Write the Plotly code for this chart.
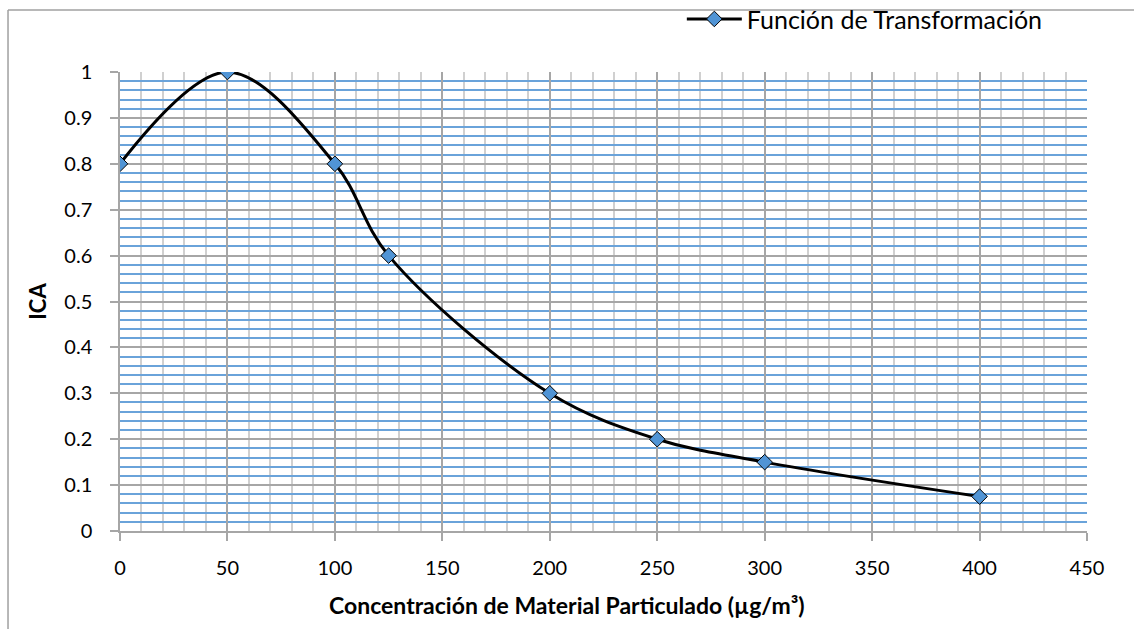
import plotly.graph_objects as go

# Transformation function data: particulate concentration vs ICA
concentracion = [0, 50, 100, 125, 200, 250, 300, 400]
ica = [0.8, 1.0, 0.8, 0.6, 0.3, 0.2, 0.15, 0.075]

x_ticks = [0, 50, 100, 150, 200, 250, 300, 350, 400, 450]
y_ticks = [0, 0.1, 0.2, 0.3, 0.4, 0.5, 0.6, 0.7, 0.8, 0.9, 1.0]
y_tick_text = ["0", "0.1", "0.2", "0.3", "0.4", "0.5", "0.6", "0.7", "0.8", "0.9", "1"]

FONT = "Lato"
MAJOR_GRID = "#a6a6a6"
MINOR_V = "#d0d0d0"
MINOR_H = "#6aa3da"

fig = go.Figure()
fig.add_trace(go.Scatter(
    x=concentracion,
    y=ica,
    mode="lines+markers",
    name="Función de Transformación",
    line=dict(color="black", width=3, shape="spline", smoothing=1),
    marker=dict(symbol="diamond", size=12, color="#5094d5",
                line=dict(color="black", width=1)),
))

fig.update_xaxes(
    range=[0, 450],
    tickvals=x_ticks,
    showline=True, linecolor=MAJOR_GRID, linewidth=1.5,
    ticks="outside", ticklen=8, tickcolor=MAJOR_GRID, tickwidth=1.5,
    ticklabelstandoff=10,
    showgrid=True, gridcolor=MAJOR_GRID, gridwidth=1.5,
    minor=dict(dtick=10, showgrid=True, gridcolor=MINOR_V, gridwidth=1.5),
    zeroline=False,
    tickfont=dict(family=FONT, size=20, color="black"),
)
fig.update_yaxes(
    range=[0, 1],
    tickvals=y_ticks,
    ticktext=y_tick_text,
    showline=True, linecolor=MAJOR_GRID, linewidth=1.5,
    ticks="outside", ticklen=8, tickcolor=MAJOR_GRID, tickwidth=1.5,
    ticklabelstandoff=14,
    showgrid=True, gridcolor=MAJOR_GRID, gridwidth=1.5,
    minor=dict(dtick=0.02, showgrid=True, gridcolor=MINOR_H, gridwidth=1.5),
    zeroline=False,
    tickfont=dict(family=FONT, size=20, color="black"),
    title=dict(text="<b>ICA</b>", font=dict(family=FONT, size=22, color="black"),
               standoff=12),
)

# x-axis title placed as an annotation below the tick labels
fig.add_annotation(
    text="<b>Concentración de Material Particulado (µg/m³)</b>",
    xref="paper", yref="paper", x=0.462, y=-0.161,
    xanchor="center", yanchor="middle", showarrow=False,
    font=dict(family=FONT, size=23, color="black"),
)

# outer chart frame (left and top edges)
frame = dict(type="line", xref="paper", yref="paper",
             line=dict(color="#a0a0a0", width=1.5), layer="above")
fig.add_shape(x0=-0.1158, x1=-0.1158, y0=1.135, y1=-0.25, **frame)
fig.add_shape(x0=-0.1158, x1=1.1, y0=1.135, y1=1.135, **frame)

fig.update_layout(
    width=1134, height=629,
    margin=dict(l=120, r=46.5, t=72, b=98, autoexpand=False),
    paper_bgcolor="white", plot_bgcolor="white",
    showlegend=True,
    legend=dict(x=0.581, y=1.115, xanchor="left", yanchor="middle",
                itemwidth=55,
                font=dict(family=FONT, size=25, color="black"),
                bgcolor="rgba(0,0,0,0)"),
)

fig.write_html("out.html")
